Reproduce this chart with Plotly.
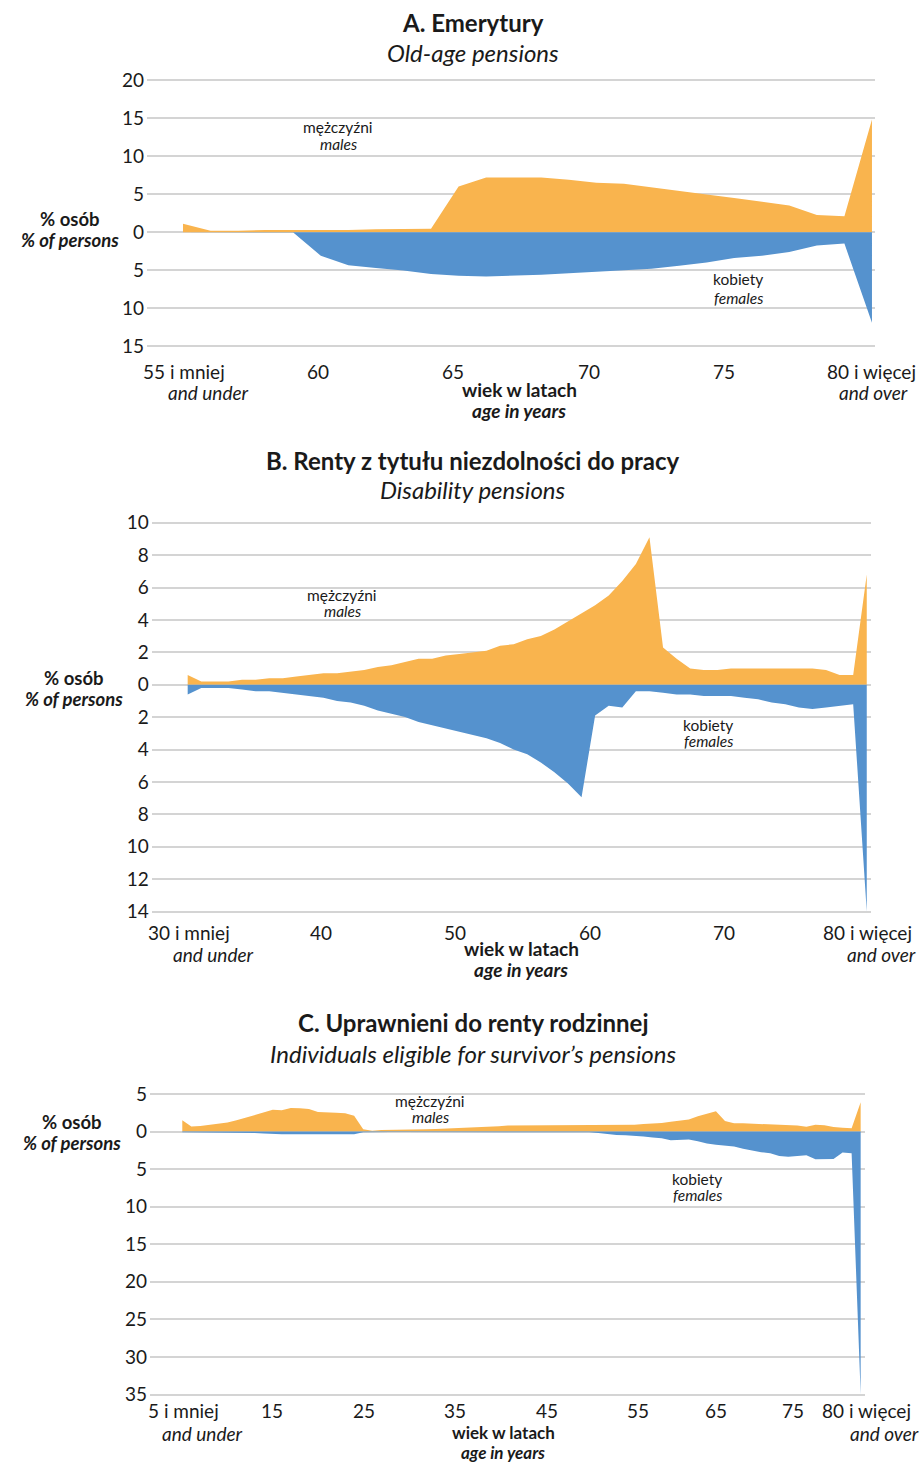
import plotly.graph_objects as go

W, H = 921, 1463

# ---------------- DATA ----------------
# Panel A: Old-age pensions, ages 55 and under ... 80 and over
ages_A = ["55 i mniej"] + [str(a) for a in range(56, 80)] + ["80 i więcej"]
males_A = [1.1, 0.2, 0.2, 0.3, 0.3, 0.3, 0.3, 0.4, 0.4, 0.45, 6.0, 7.2, 7.2, 7.2,
           6.9, 6.5, 6.35, 5.9, 5.5, 4.96, 4.5, 3.97, 3.5, 2.27, 2.1, 14.8]
females_A = [0.0, 0.0, 0.0, 0.0, 0.05, 3.1, 4.35, 4.7, 5.05, 5.5, 5.74, 5.83, 5.75, 5.6,
             5.4, 5.2, 5.0, 4.8, 4.4, 4.0, 3.4, 3.1, 2.6, 1.74, 1.5, 11.9]

# Panel B: Disability pensions, ages 30 and under ... 80 and over
ages_B = ["30 i mniej"] + [str(a) for a in range(31, 80)] + ["80 i więcej"]
males_B = [0.6, 0.2, 0.2, 0.2, 0.3, 0.3, 0.4, 0.4, 0.5, 0.6, 0.7, 0.7, 0.8, 0.9, 1.1,
           1.2, 1.4, 1.6, 1.6, 1.8, 1.9, 2.0, 2.1, 2.4, 2.5, 2.8, 3.0, 3.4, 3.9, 4.4,
           4.9, 5.5, 6.4, 7.45, 9.1, 2.3, 1.6, 1.0, 0.9, 0.9, 1.0, 1.0, 1.0, 1.0, 1.0,
           1.0, 1.0, 0.9, 0.6, 0.6, 6.8]
females_B = [0.6, 0.2, 0.2, 0.2, 0.3, 0.4, 0.4, 0.5, 0.6, 0.7, 0.8, 1.0, 1.1, 1.3, 1.6,
             1.8, 2.0, 2.3, 2.5, 2.7, 2.9, 3.1, 3.3, 3.6, 4.0, 4.3, 4.8, 5.4, 6.1, 6.95,
             1.9, 1.3, 1.4, 0.4, 0.4, 0.5, 0.6, 0.6, 0.7, 0.7, 0.7, 0.8, 0.9, 1.1, 1.2,
             1.4, 1.5, 1.4, 1.3, 1.2, 14.0]

# Panel C: Survivor's pensions, ages 5 and under ... 80 and over
ages_C = ["5 i mniej"] + [str(a) for a in range(6, 80)] + ["80 i więcej"]
males_C = [1.5, 0.66, 0.75, 0.9, 1.0, 1.2, 1.5, 1.85, 2.2, 2.6, 2.9, 2.85, 3.15, 3.1,
           3.0, 2.6, 2.6, 2.5, 2.45, 2.1, 0.3, 0.1, 0.2, 0.2, 0.2, 0.2, 0.2, 0.3, 0.35,
           0.4, 0.45, 0.5, 0.5, 0.55, 0.65, 0.7, 0.8, 0.8, 0.8, 0.9, 0.8, 0.8, 0.85,
           0.9, 0.8, 0.8, 0.8, 0.85, 0.9, 0.9, 0.9, 1.0, 1.05, 1.15, 1.3, 1.4, 1.6,
           2.05, 2.4, 2.7, 1.4, 1.1, 1.1, 1.05, 1.0, 1.0, 0.9, 0.85, 0.8, 0.65, 0.9,
           0.85, 0.6, 0.5, 0.45, 3.9]
females_C = [0.1, 0.1, 0.1, 0.1, 0.1, 0.15, 0.15, 0.2, 0.2, 0.25, 0.35, 0.35, 0.35,
             0.35, 0.35, 0.35, 0.4, 0.45, 0.45, 0.35, 0.1, 0.05, 0.05, 0.05, 0.05,
             0.05, 0.05, 0.05, 0.05, 0.05, 0.05, 0.05, 0.05, 0.05, 0.05, 0.1, 0.1,
             0.1, 0.1, 0.1, 0.1, 0.1, 0.1, 0.1, 0.1, 0.1, 0.2, 0.35, 0.45, 0.5, 0.55,
             0.65, 0.8, 0.9, 1.15, 1.15, 1.05, 1.3, 1.6, 1.75, 1.85, 2.0, 2.3, 2.55,
             2.75, 2.9, 3.25, 3.35, 3.25, 3.15, 3.7, 3.65, 3.65, 2.8, 2.9, 35.0]

# Tick labels
yticks_A = [20, 15, 10, 5, 0, -5, -10, -15]
yticks_B = [10, 8, 6, 4, 2, 0, -2, -4, -6, -8, -10, -12, -14]
yticks_C = [5, 0, -5, -10, -15, -20, -25, -30, -35]
xlabels_A = ["55 i mniej", "60", "65", "70", "75", "80 i więcej"]
xlabels_B = ["30 i mniej", "40", "50", "60", "70", "80 i więcej"]
xlabels_C = ["5 i mniej", "15", "25", "35", "45", "55", "65", "75", "80 i więcej"]

titles = [("A. Emerytury", "Old-age pensions"),
          ("B. Renty z tytułu niezdolności do pracy", "Disability pensions"),
          ("C. Uprawnieni do renty rodzinnej", "Individuals eligible for survivor’s pensions")]

# ---------------- STYLE / LAYOUT ----------------
ORANGE = "#F9B44E"
BLUE = "#5592CE"
GRID = "#D4D4D4"
TXT = "#1a1a1a"
FONT = "Lato"


def px(x):
    return x / W


def py(y):
    return 1 - y / H


panels = [
    dict(ages=ages_A, m=males_A, f=females_A, yt=yticks_A, xd=(147, 875), yd=(80, 346.3),
         xr=[-1.306, 25.11], yr=[-15, 20]),
    dict(ages=ages_B, m=males_B, f=females_B, yt=yticks_B, xd=(151.7, 870.7), yd=(522.7, 911.5),
         xr=[-2.65, 50.29], yr=[-14, 10]),
    dict(ages=ages_C, m=males_C, f=females_C, yt=yticks_C, xd=(150, 865), yd=(1094, 1394.5),
         xr=[-3.57, 75.48], yr=[-35, 5]),
]

PAD = 4  # px of extra room so the outermost gridlines are drawn

fig = go.Figure()
layout = dict(width=W, height=H, margin=dict(l=0, r=0, t=0, b=0, pad=0, autoexpand=False),
              paper_bgcolor="white", plot_bgcolor="white", showlegend=False,
              font=dict(family=FONT, color=TXT))

for k, p in enumerate(panels):
    n = k + 1
    xa = "x" if n == 1 else f"x{n}"
    ya = "y" if n == 1 else f"y{n}"
    xs = list(range(len(p["ages"])))
    fig.add_trace(go.Scatter(x=xs, y=p["m"], xaxis=xa, yaxis=ya, mode="lines",
                             line=dict(width=0, color=ORANGE), fill="tozeroy",
                             fillcolor=ORANGE, hoverinfo="skip"))
    fig.add_trace(go.Scatter(x=xs, y=[-v for v in p["f"]], xaxis=xa, yaxis=ya, mode="lines",
                             line=dict(width=0, color=BLUE), fill="tozeroy",
                             fillcolor=BLUE, hoverinfo="skip"))
    xkey = "xaxis" if n == 1 else f"xaxis{n}"
    ykey = "yaxis" if n == 1 else f"yaxis{n}"
    top, bot = p["yd"]
    upp = (p["yr"][1] - p["yr"][0]) / (bot - top)
    yr = [p["yr"][0] - PAD * upp, p["yr"][1] + PAD * upp]
    layout[xkey] = dict(domain=[px(p["xd"][0]), px(p["xd"][1])], range=p["xr"],
                        anchor=ya, showgrid=False, zeroline=False, showticklabels=False,
                        showline=False, fixedrange=True, automargin=False)
    layout[ykey] = dict(domain=[py(bot + PAD), py(top - PAD)], range=yr,
                        anchor=xa, tickvals=p["yt"], ticktext=[str(abs(v)) for v in p["yt"]],
                        showgrid=True, gridcolor=GRID, gridwidth=1.5, zeroline=False,
                        showline=False, ticks="", ticklabelstandoff=2, automargin=False,
                        tickfont=dict(family=FONT, size=19, color=TXT), fixedrange=True)

fig.update_layout(**layout)

anns = []


def txt(x, y, s, size=19, **kw):
    anns.append(dict(x=px(x), y=py(y), xref="paper", yref="paper", text=s, showarrow=False,
                     xanchor="center", yanchor="middle",
                     font=dict(family=FONT, size=size, color=TXT), **kw))


# Titles
title_y = [(22, 53), (461, 490), (1022, 1053)]
for (t1, t2), (y1, y2) in zip(titles, title_y):
    txt(473, y1, f"<b>{t1}</b>", size=24)
    txt(473, y2, f"<i>{t2}</i>", size=24)

# Y-axis titles
for (xc, y0) in [(70, 230), (74, 689), (72, 1133)]:
    txt(xc, y0 - 11, "<b>% osób</b>", size=18.5)
    txt(xc, y0 + 10, "<b><i>% of persons</i></b>", size=18.5)

# X tick labels
xpos_A = [184, 318, 453, 589, 724, 871]
xpos_B = [189, 321, 455, 590, 724, 867]
xpos_C = [183, 272, 364, 455, 547, 638, 716, 793, 866]
rows = [(xlabels_A, xpos_A, 371, 392, 208, 873, 519, 389, 410, 19),
        (xlabels_B, xpos_B, 933, 954, 213, 881, 521, 948, 969, 19),
        (xlabels_C, xpos_C, 1410, 1433, 202, 884, 503, 1432, 1452, 17)]
for labels, xpos, r1, r2, xu, xo, xw, yw1, yw2, tsz in rows:
    for lab, xx in zip(labels, xpos):
        txt(xx, r1, lab, size=19)
    txt(xu, r2, "<i>and under</i>", size=19)
    txt(xo, r2, "<i>and over</i>", size=19)
    txt(xw, yw1, "<b>wiek w latach</b>", size=tsz)
    txt(xw, yw2, "<b><i>age in years</i></b>", size=tsz)

# Series labels
series_pos = [((338, 127, 144), (738, 279, 298)),
              ((342, 595, 611), (708, 725, 741)),
              ((430, 1101, 1117), (697, 1179, 1195))]
for (mx, my1, my2), (fx, fy1, fy2) in series_pos:
    txt(mx, my1, "mężczyźni", size=15.5)
    txt(mx, my2, "<i>males</i>", size=15.5)
    txt(fx, fy1, "kobiety", size=15.5)
    txt(fx, fy2, "<i>females</i>", size=15.5)

fig.update_layout(annotations=anns)
fig.write_html("out.html", config={"displayModeBar": False},
               post_script="document.body.style.margin='0px';document.body.style.overflow='hidden';")
